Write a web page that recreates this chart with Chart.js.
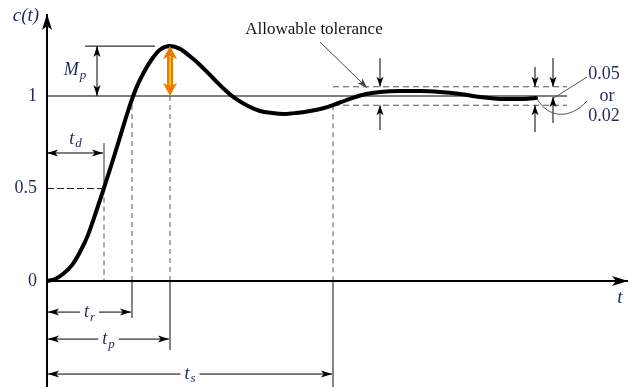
<!DOCTYPE html>
<html><head><meta charset="utf-8">
<script src="https://cdn.jsdelivr.net/npm/chart.js@4.4.1/dist/chart.umd.min.js"></script>
<style>html,body{margin:0;padding:0;background:#fff}canvas{display:block}</style>
</head><body>
<canvas id="c" width="633" height="387"></canvas>
<script>
// ---- data ----
const curveT = [0,0.08,0.16,0.25,0.33,0.41,0.49,0.57,0.65,0.73,0.81,0.89,0.97,1.05,1.13,1.23,1.33,1.43,1.53,1.65,1.77,1.89,2.01,2.13,2.25,2.37,2.49,2.63,2.77,2.86,3.05,3.19,3.33,3.53,3.73,3.93,4.13,4.33,4.53,4.73,4.89];
const curveC = [0,0.011,0.038,0.086,0.157,0.249,0.373,0.503,0.638,0.778,0.919,1.04,1.13,1.2,1.25,1.27,1.255,1.215,1.168,1.103,1.038,0.984,0.946,0.919,0.908,0.903,0.908,0.919,0.935,0.951,0.989,1.011,1.022,1.027,1.027,1.022,1.011,0.995,0.984,0.984,0.989];
const tickValues = [0, 0.5, 1];
const tickLabels = ['0', '0.5', '1'];
const markNames = ['d', 'r', 'p', 's'];      // subscripts of t
const markTimes = [0.57, 0.85, 1.23, 2.86];  // td, tr, tp, ts
const finalValue = 1;
const peakValue = 1.27;
const tolerance = 0.05;
const toleranceLabels = ['0.05', 'or', '0.02'];
const annotationText = 'Allowable tolerance';
const axisLabels = ['c(t)', 't'];

const X_MIN = 0, X_MAX = 5.8, Y_MIN = -0.573, Y_MAX = 1.438;
const NAVY = '#1e2b5a';
const GRAY = '#555';

function head(ctx, x, y, ang, len, half, color) {
  ctx.save(); ctx.translate(x, y); ctx.rotate(ang);
  ctx.fillStyle = color || '#000';
  ctx.beginPath(); ctx.moveTo(0, 0); ctx.lineTo(-len, -half); ctx.lineTo(-len * 0.75, 0); ctx.lineTo(-len, half); ctx.closePath(); ctx.fill();
  ctx.restore();
}
function arrow(ctx, x1, y1, x2, y2, h1, h2, o) {
  o = o || {};
  const col = o.color || '#000', w = o.width || 1, len = o.len || 11, half = o.half || 3.5;
  ctx.save(); ctx.strokeStyle = col; ctx.lineWidth = w;
  ctx.beginPath(); ctx.moveTo(x1, y1); ctx.lineTo(x2, y2); ctx.stroke();
  const a = Math.atan2(y2 - y1, x2 - x1);
  if (h2) head(ctx, x2, y2, a, len, half, col);
  if (h1) head(ctx, x1, y1, a + Math.PI, len, half, col);
  ctx.restore();
}
function line(ctx, x1, y1, x2, y2, col, w, dash) {
  ctx.save(); ctx.strokeStyle = col; ctx.lineWidth = w; ctx.setLineDash(dash || []);
  ctx.beginPath(); ctx.moveTo(x1, y1); ctx.lineTo(x2, y2); ctx.stroke(); ctx.restore();
}
function subText(ctx, main, sub, cx, cy, gap) {
  ctx.save();
  const f1 = 'italic 18px "Liberation Serif", serif', f2 = 'italic 13px "Liberation Serif", serif';
  ctx.font = f1; const w1 = ctx.measureText(main).width;
  ctx.font = f2; const w2 = ctx.measureText(sub).width;
  const w = w1 + w2 + 1, x0 = cx - w / 2;
  if (gap) { ctx.fillStyle = '#fff'; ctx.fillRect(x0 - 4, cy - 9, w + 8, 20); }
  ctx.fillStyle = NAVY; ctx.textBaseline = 'middle'; ctx.textAlign = 'left';
  ctx.font = f1; ctx.fillText(main, x0, cy);
  ctx.font = f2; ctx.fillText(sub, x0 + w1 + 1, cy + 5);
  ctx.restore();
}

const annot = {
  id: 'annot',
  beforeDatasetsDraw(chart) {
    const ctx = chart.ctx, xs = chart.scales.x, ys = chart.scales.y, ca = chart.chartArea;
    const px = v => xs.getPixelForValue(v), py = v => ys.getPixelForValue(v);
    const x0 = px(0), y0 = py(0);
    line(ctx, x0, py(finalValue), px(5.2), py(finalValue), GRAY, 1.5);
    line(ctx, px(markTimes[3]), py(finalValue + tolerance), px(5.2), py(finalValue + tolerance), GRAY, 1.2, [6, 4]);
    line(ctx, px(markTimes[3]), py(finalValue - tolerance), px(5.2), py(finalValue - tolerance), GRAY, 1.2, [6, 4]);
    line(ctx, px(0.38), py(peakValue), px(1.08), py(peakValue), '#333', 1.2);
    line(ctx, x0, py(0.5), px(markTimes[0]), py(0.5), '#222', 1, [7, 3]);
    line(ctx, px(markTimes[0]), py(0.5), px(markTimes[0]), y0, GRAY, 1, [5, 4]);
    line(ctx, px(markTimes[0]), py(0.746), px(markTimes[0]), py(0.5), GRAY, 1.2);
    line(ctx, px(markTimes[1]), py(finalValue), px(markTimes[1]), y0, GRAY, 1, [5, 4]);
    line(ctx, px(markTimes[2]), py(finalValue), px(markTimes[2]), y0, GRAY, 1, [5, 4]);
    line(ctx, px(markTimes[3]), py(finalValue - tolerance), px(markTimes[3]), y0, GRAY, 1, [5, 4]);
    line(ctx, px(markTimes[1]), y0, px(markTimes[1]), py(-0.2), '#333', 1.2);
    line(ctx, px(markTimes[2]), y0, px(markTimes[2]), py(-0.373), '#333', 1.2);
    line(ctx, px(markTimes[3]), y0, px(markTimes[3]), ca.bottom, '#333', 1.2);
  },
  afterDatasetsDraw(chart) {
    const ctx = chart.ctx, xs = chart.scales.x, ys = chart.scales.y, ca = chart.chartArea;
    const px = v => xs.getPixelForValue(v), py = v => ys.getPixelForValue(v);
    const x0 = px(0), y0 = py(0);
    arrow(ctx, x0, ca.bottom, x0, ca.top - 1, false, true, { width: 2, len: 16, half: 5 });
    arrow(ctx, x0 - 1, y0, ca.right + 1, y0, false, true, { width: 2, len: 16, half: 5 });
    ctx.save(); ctx.font = '18px "Liberation Serif", serif'; ctx.fillStyle = NAVY;
    ctx.textAlign = 'right'; ctx.textBaseline = 'middle';
    tickValues.forEach((v, i) => ctx.fillText(tickLabels[i], x0 - 10, py(v)));
    ctx.font = 'italic 19px "Liberation Serif", serif'; ctx.textAlign = 'center';
    ctx.fillText(axisLabels[0], 26, 16);
    ctx.fillText(axisLabels[1], px(5.73), y0 + 17);
    ctx.restore();
    const xm = px(0.5);
    arrow(ctx, xm, py(peakValue), xm, py(finalValue), true, true, { width: 1, len: 11, half: 3.5 });
    subText(ctx, 'M', 'p', px(0.28), py(1.14), false);
    const xo = px(markTimes[2]);
    const ya = py(peakValue), yb = py(finalValue);
    arrow(ctx, xo, ya + 8, xo, yb - 8, false, false, { width: 6, color: '#ee7a00' });
    head(ctx, xo, ya, -Math.PI / 2, 13, 7, '#ee7a00');
    head(ctx, xo, yb, Math.PI / 2, 13, 7, '#ee7a00');
    line(ctx, xo, ya + 10, xo, yb - 10, '#ffd21a', 1.5);
    const yd = py(0.692);
    arrow(ctx, x0, yd, px(markTimes[0]) - 1, yd, true, true);
    subText(ctx, 't', markNames[0], px(markTimes[0] / 2), yd - 14, false);
    const rows = [-0.168, -0.314, -0.503];
    for (let i = 1; i <= 3; i++) {
      const yy = py(rows[i - 1]);
      arrow(ctx, x0 + 1, yy, px(markTimes[i]) - 1, yy, true, true);
      subText(ctx, 't', markNames[i], (x0 + px(markTimes[i])) / 2, yy, true);
    }
    const yu = py(finalValue + tolerance), yl = py(finalValue - tolerance), y1 = py(finalValue);
    const mk = (t, topFrom, tipTop, botFrom, tipBot) => {
      arrow(ctx, px(t), py(topFrom), px(t), tipTop, false, true, { len: 10, half: 3.5 });
      arrow(ctx, px(t), py(botFrom), px(t), tipBot, false, true, { len: 10, half: 3.5 });
    };
    mk(3.33, 1.205, yu, 0.816, yl);
    mk(4.88, 1.157, yu, 0.805, yl);
    mk(5.06, 1.205, yu, 0.854, y1 + 1);
    ctx.save(); ctx.font = '17px "Liberation Serif", serif'; ctx.fillStyle = '#111';
    ctx.textAlign = 'center'; ctx.textBaseline = 'middle';
    ctx.fillText(annotationText, px(2.67), 30);
    ctx.restore();
    arrow(ctx, px(2.73), 42, px(3.2), yu + 1, false, true, { width: 1, color: '#444', len: 10, half: 3.5 });
    ctx.save(); ctx.font = '18px "Liberation Serif", serif'; ctx.fillStyle = NAVY;
    ctx.textAlign = 'center'; ctx.textBaseline = 'middle';
    ctx.fillText(toleranceLabels[0], 604, 74);
    ctx.fillText(toleranceLabels[1], 607, 96);
    ctx.fillText(toleranceLabels[2], 604, 116);
    ctx.restore();
    ctx.save(); ctx.strokeStyle = '#555'; ctx.lineWidth = 1;
    ctx.beginPath(); ctx.moveTo(587, 77); ctx.lineTo(px(5.07), py(0.99)); ctx.stroke();
    ctx.beginPath(); ctx.moveTo(587, 101);
    ctx.bezierCurveTo(570, 120, 548, 118, px(4.9), py(0.985)); ctx.stroke();
    ctx.restore();
  }
};

new Chart(document.getElementById('c'), {
  type: 'scatter',
  data: {
    datasets: [{
      data: curveT.map((t, i) => ({ x: t, y: curveC[i] })),
      showLine: true, borderColor: '#000', borderWidth: 4, pointRadius: 0,
      cubicInterpolationMode: 'monotone', fill: false, borderCapStyle: 'round'
    }]
  },
  options: {
    responsive: false, animation: false, devicePixelRatio: 1,
    layout: { padding: { left: 47, right: 6, top: 15, bottom: 0 } },
    plugins: { legend: { display: false }, tooltip: { enabled: false } },
    scales: {
      x: { type: 'linear', min: X_MIN, max: X_MAX, display: false },
      y: { type: 'linear', min: Y_MIN, max: Y_MAX, display: false }
    }
  },
  plugins: [annot]
});
</script>
</body></html>
